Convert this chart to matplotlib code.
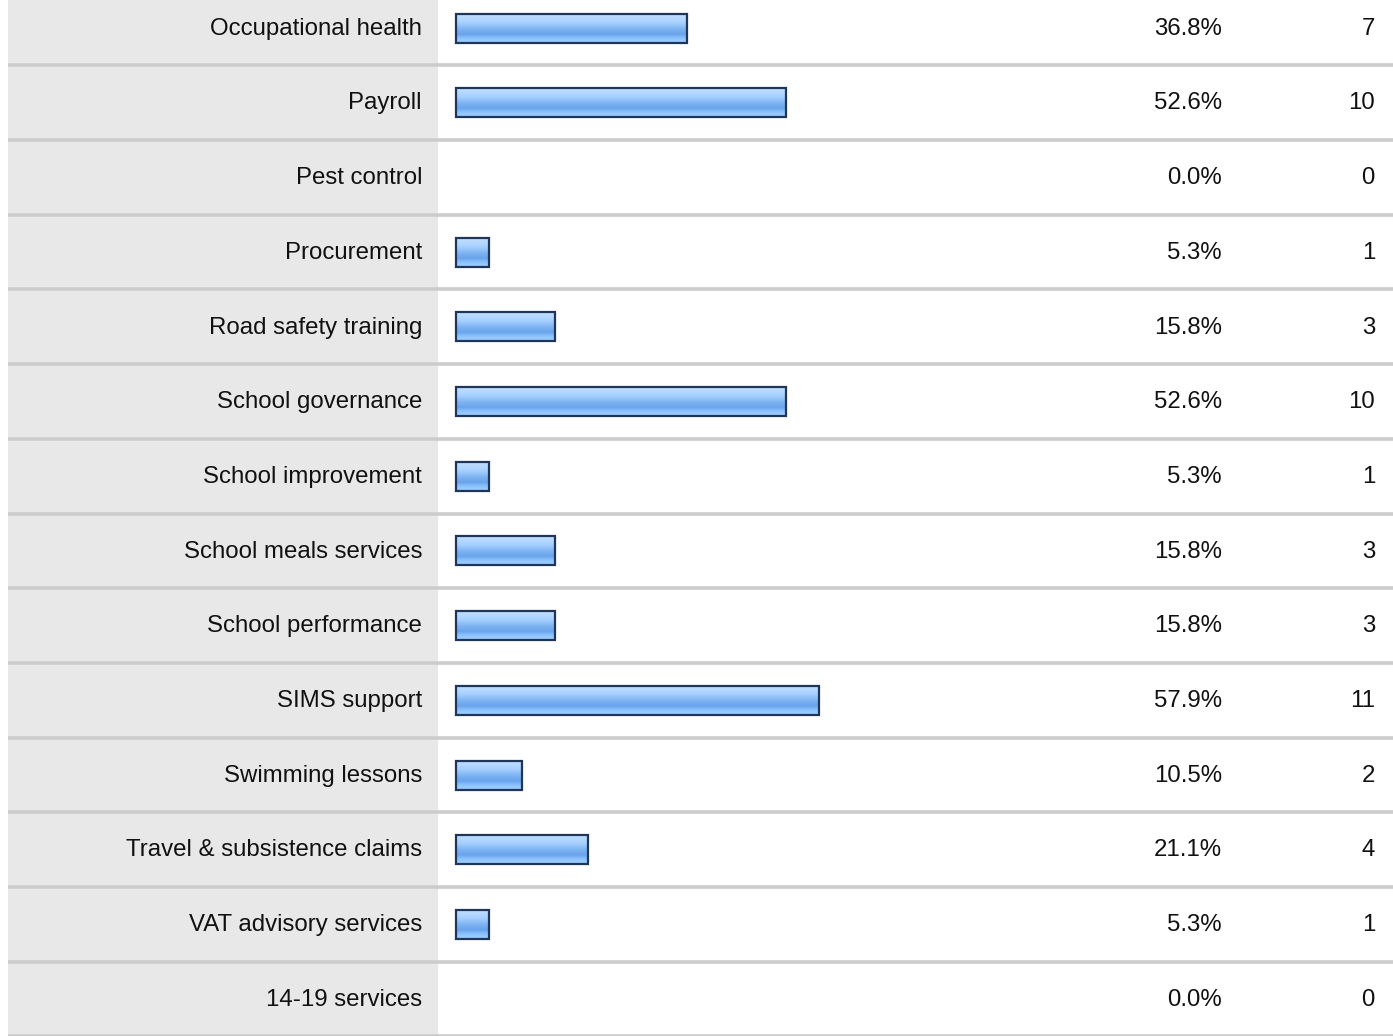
import numpy as np
import matplotlib.pyplot as plt
from matplotlib.patches import Rectangle
from matplotlib.colors import LinearSegmentedColormap
from matplotlib.transforms import blended_transform_factory

plt.rcParams['font.family'] = ['Liberation Sans', 'DejaVu Sans']

categories = ["Occupational health", "Payroll", "Pest control", "Procurement",
              "Road safety training", "School governance", "School improvement",
              "School meals services", "School performance", "SIMS support",
              "Swimming lessons", "Travel & subsistence claims",
              "VAT advisory services", "14-19 services"]
percents = [36.8, 52.6, 0.0, 5.3, 15.8, 52.6, 5.3, 15.8, 15.8, 57.9, 10.5, 21.1, 5.3, 0.0]
counts = [7, 10, 0, 1, 3, 10, 1, 3, 3, 11, 2, 4, 1, 0]

W, H = 1393, 1036
fig = plt.figure(figsize=(W / 100, H / 100), dpi=100)
ax = fig.add_axes([0, 0, 1, 1])

# pixel layout: bar origin at x=456px, 100% ~ 627px; rows every 74.7px
px_per_pct = 6.27
x0 = 456
row_h = 74.7
top_c = 28
ax.set_xlim(-x0 / px_per_pct, (W - x0) / px_per_pct)
ax.set_ylim((H - top_c) / row_h, -top_c / row_h)
ax.axis('off')

fx = blended_transform_factory(fig.transFigure, ax.transData)

# label column background
ax.add_patch(Rectangle((8 / W, -1), (438 - 8) / W, 20, transform=fx,
                       facecolor='#e8e8e8', edgecolor='none', zorder=0))

# row separators
for i in range(len(categories)):
    ax.plot([8 / W, 1], [i + 0.5, i + 0.5], transform=fx, color='#cccccc',
            lw=2.6, solid_capstyle='butt', zorder=1)

grad = LinearSegmentedColormap.from_list('bar', [
    (0.0, '#c4e0ff'), (0.3, '#a6d0ff'), (0.55, '#78b0f0'),
    (0.7, '#6aa4ec'), (0.85, '#8ec4ff'), (1.0, '#a0cfff')])
gimg = np.linspace(0, 1, 64).reshape(-1, 1)

fs = 17.3
bh = 29 / row_h
for i, (cat, p, c) in enumerate(zip(categories, percents, counts)):
    if p > 0:
        ax.imshow(gimg, cmap=grad, aspect='auto', interpolation='bilinear',
                  extent=(0, p, i + bh / 2, i - bh / 2), zorder=2)
        ax.add_patch(Rectangle((0, i - bh / 2), p, bh, facecolor='none',
                               edgecolor='#1f3658', lw=1.6, zorder=3))
    ax.text(422 / W, i + 0.01, cat, transform=fx, ha='right', va='center',
            fontsize=fs, color='#111111')
    ax.text(1222 / W, i + 0.01, f"{p:.1f}%", transform=fx, ha='right', va='center',
            fontsize=fs, color='#111111')
    ax.text(1375 / W, i + 0.01, str(c), transform=fx, ha='right', va='center',
            fontsize=fs, color='#111111')

fig.savefig('out.png', dpi=100)
